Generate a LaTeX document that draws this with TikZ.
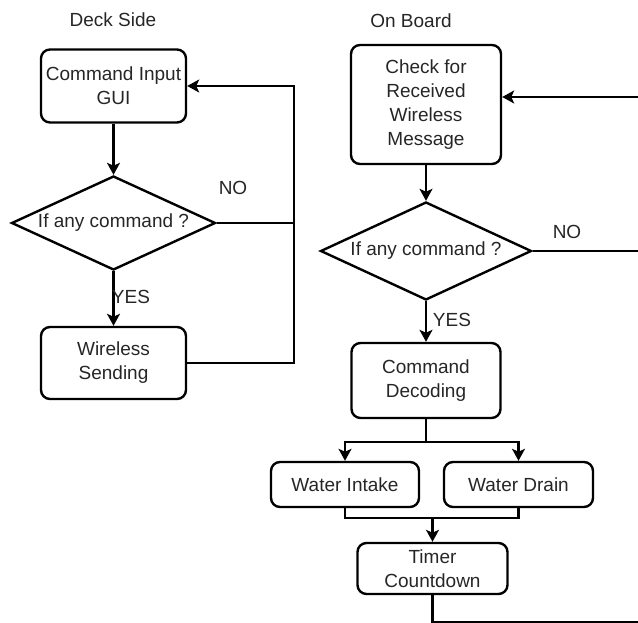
\documentclass[tikz,border=0pt]{standalone}
\usepackage{fontspec}
\setmainfont{Liberation Sans}
\usetikzlibrary{shapes.geometric,arrows.meta}
\begin{document}
\begin{tikzpicture}[x=1pt,y=-1pt,
  txt/.style={font=\fontsize{19}{24}\selectfont, text=black!85},
  box/.style={txt, draw, line width=2.4pt, rounded corners=9pt, align=center, inner sep=0pt},
  dec/.style={txt, draw, line width=2.4pt, diamond, aspect=2.5, inner sep=0pt},
  link/.style={line width=2.4pt},
  arr/.style={link, -{Stealth[length=12pt,width=13pt,inset=3pt]}}]
\useasboundingbox (0,0) rectangle (638,623);
\clip (0,0) rectangle (638,623);

% headings
\node[txt] (deck) at (113,20) {Deck Side};
\node[txt] (board) at (411,21) {On Board};

% deck side flow
\node[box, minimum width=145, minimum height=73] (gui) at (113.5,86) {Command Input\\GUI};
\node[dec, minimum width=204, minimum height=94] (q1) at (113.5,223) {If any command ?};
\node[box, minimum width=145, minimum height=72] (send) at (113.5,363) {Wireless\\Sending};
\coordinate (jl) at (294,86);

\draw[arr] (gui) -- (q1);
\draw[arr] (q1) -- (send);
\node[txt] (yes1) at (131,297) {YES};
\draw[link] (q1.east) -- (q1.east -| jl);
\node[txt] (no1) at (233,188) {NO};
\draw[arr] (send.east) -| (jl) -- (gui.east);

% on-board flow
\node[box, minimum width=150, minimum height=119] (check) at (426,104.5) {Check for\\Received\\Wireless\\Message};
\node[dec, minimum width=211, minimum height=98] (q2) at (426,251) {If any command ?};
\node[box, minimum width=149, minimum height=75] (decode) at (426,380.5) {Command\\Decoding};
\node[box, minimum width=148, minimum height=45] (intake) at (345,484.5) {Water Intake};
\node[box, minimum width=149, minimum height=45] (drain) at (518.5,484.5) {Water Drain};
\node[box, minimum width=150, minimum height=51] (timer) at (432.5,568.5) {Timer\\Countdown};

\coordinate (split) at (426,442);
\coordinate (merge) at (432.5,518);
\coordinate (rbot) at (646,622);
\coordinate (rtop) at (646,97);

\draw[arr] (check) -- (q2);
\draw[arr] (q2) -- (decode);
\node[txt] (yes2) at (452,320) {YES};
\draw[link] (q2.east) -- (q2.east -| rtop);
\node[txt] (no2) at (567,232) {NO};

\draw[link] (decode.south) -- (split);
\draw[arr] (split) -| (intake);
\draw[arr] (split) -| (drain);
\draw[link] (intake.south) |- (merge) -| (drain.south);
\draw[arr] (merge) -- (timer);
\draw[arr] (timer.south) |- (rbot) -- (rtop) -- (rtop -| check.east);
\end{tikzpicture}
\end{document}
